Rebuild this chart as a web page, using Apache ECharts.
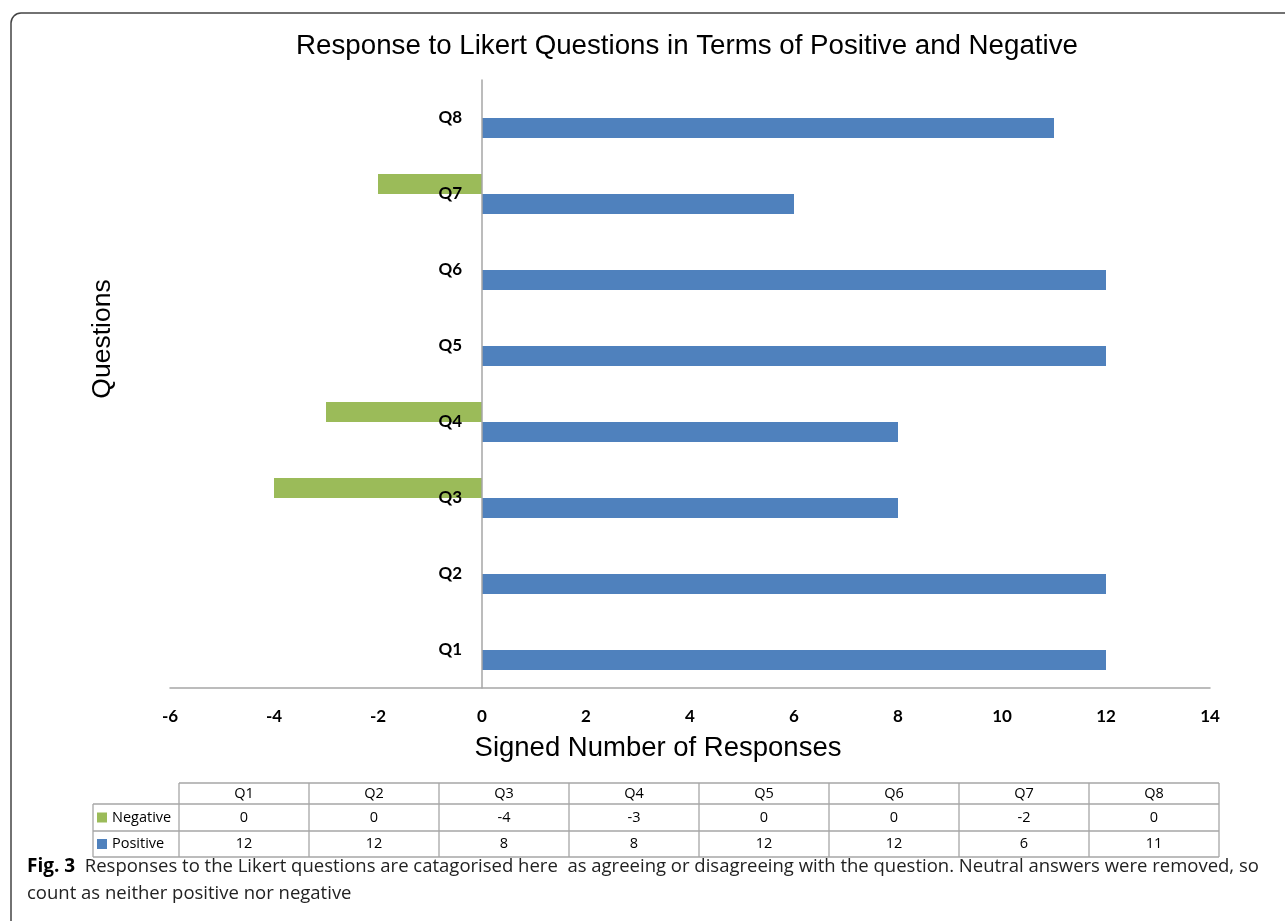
<!DOCTYPE html>
<html>
<head>
<meta charset="utf-8">
<script src="https://cdn.jsdelivr.net/npm/echarts@6/dist/echarts.min.js"></script>
<style>
  html, body { margin: 0; padding: 0; background: #fff; }
  #chart { width: 1285px; height: 921px; }
</style>
</head>
<body>
<div id="chart"></div>
<script>
// data
var questions = ['Q1', 'Q2', 'Q3', 'Q4', 'Q5', 'Q6', 'Q7', 'Q8'];
var negative = [0, 0, -4, -3, 0, 0, -2, 0];
var positive = [12, 12, 8, 8, 12, 12, 6, 11];
var xTicks = [-6, -4, -2, 0, 2, 4, 6, 8, 10, 12, 14];

var GREEN = '#9BBB59';
var BLUE = '#4F81BD';

var myChart = echarts.init(document.getElementById('chart'));

// data table under the chart, built from the same arrays
var tblLeft = 93, colStart = 179, colW = 130;
var rowY = [783, 804, 831, 857];
var tableEls = [];
var lineStyle = { stroke: '#a6a6a6', lineWidth: 1.3 };
var tblRight = colStart + colW * questions.length;

// horizontal lines
tableEls.push({ type: 'line', shape: { x1: colStart, y1: rowY[0], x2: tblRight, y2: rowY[0] }, style: lineStyle });
for (var r = 1; r < rowY.length; r++) {
  tableEls.push({ type: 'line', shape: { x1: tblLeft, y1: rowY[r], x2: tblRight, y2: rowY[r] }, style: lineStyle });
}
// vertical lines
tableEls.push({ type: 'line', shape: { x1: tblLeft, y1: rowY[1], x2: tblLeft, y2: rowY[3] }, style: lineStyle });
for (var c = 0; c <= questions.length; c++) {
  var x = colStart + c * colW;
  tableEls.push({ type: 'line', shape: { x1: x, y1: rowY[0], x2: x, y2: rowY[3] }, style: lineStyle });
}

var cellFont = '14.5px "Open Sans"';
function cellText(txt, cx, cy) {
  return {
    type: 'text', x: cx, y: cy,
    style: { text: txt, font: cellFont, fill: '#000', align: 'center', verticalAlign: 'middle' }
  };
}
var rowsData = [
  { name: 'Negative', color: GREEN, vals: negative },
  { name: 'Positive', color: BLUE, vals: positive }
];
questions.forEach(function (q, i) {
  var cx = colStart + colW * i + colW / 2;
  tableEls.push(cellText(q, cx, (rowY[0] + rowY[1]) / 2));
  rowsData.forEach(function (row, k) {
    tableEls.push(cellText(String(row.vals[i]), cx, (rowY[k + 1] + rowY[k + 2]) / 2));
  });
});
rowsData.forEach(function (row, k) {
  var cy = (rowY[k + 1] + rowY[k + 2]) / 2;
  tableEls.push({ type: 'rect', shape: { x: 97, y: cy - 5, width: 10, height: 10 }, style: { fill: row.color } });
  tableEls.push({
    type: 'text', x: 112, y: cy,
    style: { text: row.name, font: cellFont, fill: '#000', align: 'left', verticalAlign: 'middle' }
  });
});

var option = {
  backgroundColor: '#fff',
  animation: false,
  title: {
    text: 'Response to Likert Questions in Terms of Positive and Negative',
    left: 682, top: 27, textAlign: 'center',
    textStyle: { fontFamily: 'Liberation Sans', fontSize: 27.7, fontWeight: 'normal', color: '#000' }
  },
  grid: { left: 170, right: 75, top: 80, bottom: 233 },
  xAxis: {
    type: 'value',
    min: -6, max: 14, interval: 2,
    axisLine: { show: true, onZero: false, lineStyle: { color: '#a6a6a6', width: 1.5 } },
    axisTick: { show: false },
    splitLine: { show: false },
    axisLabel: {
      margin: 20, color: '#000', fontWeight: 'bold', fontSize: 17, fontFamily: 'Lato',
      formatter: function (v) { return xTicks.indexOf(v) >= 0 ? String(v) : ''; }
    }
  },
  yAxis: {
    type: 'category',
    data: questions,
    z: 5,
    // axis sits at x = 0 of the value axis: 6 units * 52px from the grid's left edge
    offset: -312,
    axisLine: { show: true, onZero: false, lineStyle: { color: '#a6a6a6', width: 1.5 } },
    axisTick: { show: false },
    axisLabel: { margin: 20, color: '#000', fontWeight: 'bold', fontSize: 17, fontFamily: 'Lato' }
  },
  series: [
    {
      name: 'Negative', type: 'bar', data: negative,
      barWidth: 20, barGap: '0%',
      itemStyle: { color: GREEN }
    },
    {
      name: 'Positive', type: 'bar', data: positive,
      barWidth: 20, barGap: '0%',
      itemStyle: { color: BLUE }
    }
  ],
  graphic: [
    {
      type: 'rect', silent: true,
      shape: { x: 11, y: 13, width: 1400, height: 1000, r: 10 },
      style: { fill: null, stroke: '#444', lineWidth: 1.5 }
    },
    {
      type: 'text', x: 103, y: 339, rotation: Math.PI / 2,
      style: {
        text: 'Questions', font: '26.5px "Liberation Sans"', fill: '#000',
        align: 'center', verticalAlign: 'middle'
      }
    },
    {
      type: 'text', x: 658, y: 748,
      style: {
        text: 'Signed Number of Responses', font: '27.5px "Liberation Sans"', fill: '#000',
        align: 'center', verticalAlign: 'middle'
      }
    },
    {
      type: 'text', x: 27, y: 853,
      style: {
        text: '{b|Fig. 3}  Responses to the Likert questions are catagorised here  as agreeing or disagreeing with the question. Neutral answers were removed, so\ncount as neither positive nor negative',
        font: '18.5px "Open Sans"', fill: '#222', lineHeight: 27,
        verticalAlign: 'top',
        rich: {
          b: { font: 'bold 19px "Open Sans"', fill: '#000', lineHeight: 27 }
        }
      }
    }
  ].concat(tableEls)
};

myChart.setOption(option);
</script>
</body>
</html>
